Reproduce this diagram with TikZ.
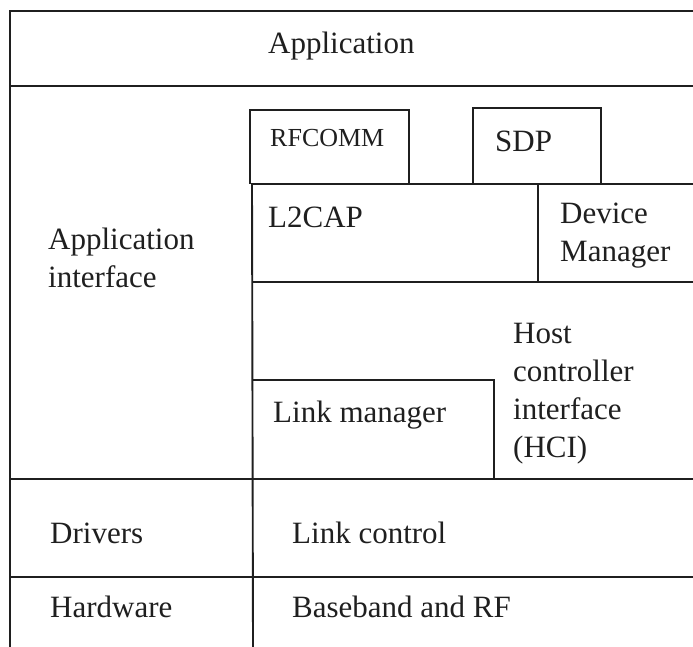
\documentclass[tikz,border=0pt]{standalone}
\usepackage{fontspec}
\setmainfont{Liberation Serif}
\begin{document}
\begin{tikzpicture}[x=1pt,y=-1pt,
  rule/.style={draw=black!88, line width=1.9pt},
  lbl/.style={anchor=base west, inner sep=0pt, text=black!88, align=left,
              font=\fontsize{31}{38}\selectfont},
  smalllbl/.style={lbl, font=\fontsize{26}{31}\selectfont}]
\useasboundingbox (0,0) rectangle (693,647);

% outer frame and full-width layer rules
\draw[rule] (693,11) -- (10,11) -- (10,647);
\draw[rule] (10,86)  -- (693,86);
\draw[rule] (10,479) -- (693,479);
\draw[rule] (10,577) -- (693,577);

% host stack column
\draw[rule] (252,184) -- (253,647);
\draw[rule] (251,184) -- (693,184);
\draw[rule] (252,282) -- (693,282);
\draw[rule] (538,184) -- (538,282);

% upper protocol boxes
\draw[rule] (250,184) -- (250,110) -- (409,110) -- (409,184);
\draw[rule] (473,184) -- (473,108) -- (601,108) -- (601,184);

% link manager box
\draw[rule] (252,380) -- (494,380) -- (494,479);

% labels (multi-line labels are anchored on their last baseline)
\node[lbl] (app)   at (268,54)  {Application};
\node[lbl] (apif)  at (48,287)  {Application\\interface};
\node[smalllbl] (rfcomm) at (270,147) {RFCOMM};
\node[lbl] (sdp)   at (495,152) {SDP};
\node[lbl] (l2cap) at (268,227) {L2CAP};
\node[lbl] (devm)  at (560,261) {Device\\Manager};
\node[lbl] (hci)   at (513,457) {Host\\controller\\interface\\(HCI)};
\node[lbl] (lm)    at (273,422) {Link manager};
\node[lbl] (drv)   at (50,543)  {Drivers};
\node[lbl] (lc)    at (292,543) {Link control};
\node[lbl] (hw)    at (50,617)  {Hardware};
\node[lbl] (bb)    at (292,617) {Baseband and RF};
\end{tikzpicture}
\end{document}
